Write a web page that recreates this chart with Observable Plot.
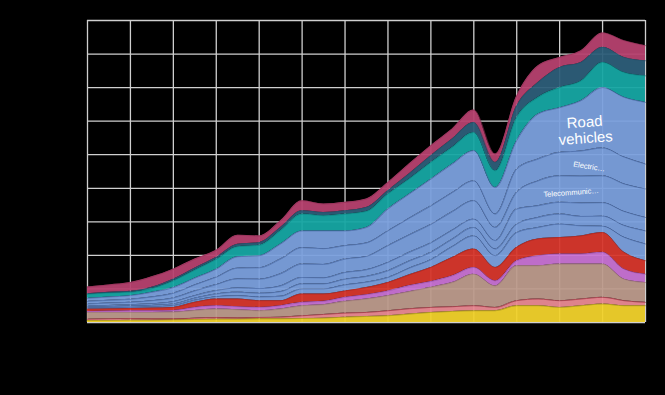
<!DOCTYPE html>
<html><head><meta charset="utf-8">
<script src="https://cdn.jsdelivr.net/npm/d3@7"></script>
<script src="https://cdn.jsdelivr.net/npm/@observablehq/plot@0.6"></script>
<style>html,body{margin:0;padding:0;background:#000;overflow:hidden;}</style>
</head><body><div id="chart"></div>
<script>
// ---- data (stacked bottom -> top) ----
const years = [1990,1991,1992,1993,1994,1995,1996,1997,1998,1999,2000,2001,2002,2003,2004,2005,2006,2007,2008,2009,2010,2011,2012,2013,2014,2015,2016];
const xTicks = [1990,1992,1994,1996,1998,2000,2002,2004,2006,2008,2010,2012,2014,2016];
const yTicks = [0,100,200,300,400,500,600,700,800,900];

const primaryProducts = [6,6,7,7,8,9,10,10,11,11,12,13,16,18,20,25,30,33,35,35,50,50,45,50,55,50,50];
const mineralFuels    = [4,5,5,4,3,4,5,4,4,5,8,11,12,12,15,16,15,14,15,10,15,20,20,20,20,15,10];
const chemicals       = [20,19,18,19,20,23,25,24,20,24,30,29,35,40,45,51,60,72,94,64,104,99,109,104,99,64,59];
const textiles        = [3,4,5,5,5,9,10,9,10,10,10,10,12,13,14,18,17,20,20,15,15,30,30,30,35,30,25];
const metals          = [7,7,7,8,9,15,20,23,20,15,25,22,19,21,25,32,42,55,55,40,40,50,49,54,59,50,40];
const generalMachinery= [3,3,3,4,5,6,7,10,11,13,15,15,18,16,15,20,23,32,39,35,44,34,40,30,19,45,50];
const powerMachinery  = [3,3,4,4,5,6,8,10,11,14,15,15,17,17,20,21,22,22,25,20,25,30,30,28,30,35,39];
const officeMachines  = [3,4,4,5,7,8,10,13,14,17,19,18,20,20,25,26,28,27,25,25,45,35,35,40,40,42,40];
const telecom         = [6,7,7,9,11,14,18,27,28,36,40,40,40,40,50,52,55,55,55,39,50,74,79,80,80,82,85];
const electrical      = [8,8,9,11,14,18,22,32,34,44,49,47,40,40,44,50,55,57,59,40,69,65,70,75,83,80,74];
const roadVehicles    = [9,10,11,14,17,20,24,34,36,45,50,53,44,46,65,72,80,85,90,79,85,134,133,150,180,178,184];
const miscManufactures= [12,12,10,11,20,24,29,30,31,40,50,45,50,48,45,45,50,50,54,50,69,50,60,59,75,74,79];
const instruments     = [2,2,3,4,5,6,6,7,8,9,10,10,10,12,10,15,20,25,30,25,34,44,60,55,45,45,45];
const otherGoods      = [20,22,26,31,30,27,21,27,20,20,30,25,25,25,24,30,30,30,37,25,30,50,30,35,43,50,45];

const seriesNames = ["Primary products","Mineral fuels","Chemicals","Textiles","Metals",
  "General industrial machinery","Power generating machinery","Office machines",
  "Telecommunication equipment","Electrical machinery","Road vehicles",
  "Misc. manufactures","Instruments","Other"];
const seriesArrays = [primaryProducts,mineralFuels,chemicals,textiles,metals,
  generalMachinery,powerMachinery,officeMachines,telecom,electrical,roadVehicles,
  miscManufactures,instruments,otherGoods];

// ---- styles ----
const fillOf = {
  "Primary products":"#f1d22b","Mineral fuels":"#ea8a93","Chemicals":"#bd9b8c","Textiles":"#c873d4","Metals":"#d7372c",
  "General industrial machinery":"#7ba0dd","Power generating machinery":"#7ba0dd","Office machines":"#7ba0dd",
  "Telecommunication equipment":"#7ba0dd","Electrical machinery":"#7ba0dd","Road vehicles":"#7ba0dd",
  "Misc. manufactures":"#16a7a3","Instruments":"#2d5e79","Other":"#b6416f"};
const lineOf = {
  "Primary products":"#9b8a1e","Mineral fuels":"#8c2430","Chemicals":"#9a6f78","Textiles":"#9a4ea8","Metals":"#a82420",
  "General industrial machinery":"#41629d","Power generating machinery":"#41629d","Office machines":"#41629d",
  "Telecommunication equipment":"#41629d","Electrical machinery":"#41629d","Road vehicles":"#41629d",
  "Misc. manufactures":"#0e7f80","Instruments":"#24506a","Other":"#8e2f55"};

const rows = [];
seriesArrays.forEach((arr, s) => arr.forEach((v, i) => rows.push({year: years[i], series: seriesNames[s], value: v})));

// label anchors: middle of a series' band in a given year
function bandMid(name, year) {
  const i = years.indexOf(year), s = seriesNames.indexOf(name);
  let base = 0;
  for (let k = 0; k < s; k++) base += seriesArrays[k][i];
  return base + seriesArrays[s][i] / 2;
}
const roadLabel = [{year: 2013, y: bandMid("Road vehicles", 2013), text: "Road\nvehicles"}];
const elecLabel = [{year: 2013, y: bandMid("Electrical machinery", 2013), text: "Electric…"}];
const telLabel  = [{year: 2013, y: bandMid("Telecommunication equipment", 2013), text: "Telecommunic…"}];

const font = "'Liberation Sans', Arial, sans-serif";
const chart = Plot.plot({
  width: 665, height: 395,
  marginLeft: 87, marginRight: 20, marginTop: 20, marginBottom: 73,
  style: {background: "#000", color: "#000", fontFamily: font, fontSize: "11px"},
  x: {domain: [1990, 2016], label: null},
  y: {domain: [0, 900], label: null},
  color: {type: "identity"},
  marks: [
    Plot.gridX(xTicks, {stroke: "#cfcfcf", strokeOpacity: 1, strokeWidth: 1.3}),
    Plot.gridY(yTicks, {stroke: "#cfcfcf", strokeOpacity: 1, strokeWidth: 1.3}),
    Plot.areaY(rows, {x: "year", y: "value", z: "series", order: seriesNames,
      fill: d => fillOf[d.series], fillOpacity: 0.95, curve: "monotone-x"}),
    Plot.lineY(rows, Plot.stackY2({x: "year", y: "value", z: "series", order: seriesNames,
      stroke: d => lineOf[d.series], strokeWidth: 0.7, strokeOpacity: 0.9, curve: "monotone-x"})),
    Plot.axisX(xTicks, {tickSize: 0, tickFormat: d => String(d), fill: "#000"}),
    Plot.axisY(yTicks, {tickSize: 0, fill: "#000"}),
    Plot.text(roadLabel, {x: "year", y: "y", text: "text", fill: "#fff", fontSize: 15, lineHeight: 1.08,
      rotate: -4, dx: 4, dy: 4, fontFamily: font}),
    Plot.text(elecLabel, {x: "year", y: "y", text: "text", fill: "#fff", fontSize: 7.5,
      rotate: 9, dx: 8, dy: 3, fontFamily: font}),
    Plot.text(telLabel, {x: "year", y: "y", text: "text", fill: "#fff", fontSize: 7.5,
      rotate: -4, dx: -10, dy: 3, fontFamily: font})
  ]
});
document.getElementById("chart").appendChild(chart);
</script>
</body></html>
